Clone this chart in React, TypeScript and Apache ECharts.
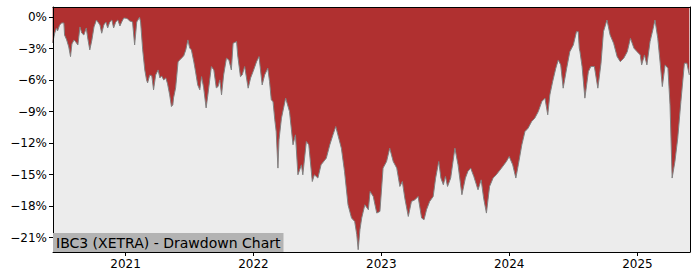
import React, { useEffect, useRef } from 'react';
import * as echarts from 'echarts';

const dates = [
  '2020-06-07','2020-06-13','2020-06-18','2020-06-21','2020-06-27','2020-07-03','2020-07-09','2020-07-11','2020-07-17','2020-07-23',
  '2020-07-28','2020-08-01','2020-08-07','2020-08-12','2020-08-18','2020-08-24','2020-08-29','2020-09-04','2020-09-11','2020-09-15',
  '2020-09-21','2020-09-27','2020-10-03','2020-10-10','2020-10-14','2020-10-20','2020-10-25','2020-10-31','2020-11-06','2020-11-11',
  '2020-11-17','2020-11-23','2020-11-28','2020-12-04','2020-12-10','2020-12-16','2020-12-21','2020-12-27','2021-01-03','2021-01-07',
  '2021-01-13','2021-01-21','2021-01-27','2021-02-02','2021-02-10','2021-02-13','2021-02-19','2021-02-25','2021-03-02','2021-03-05',
  '2021-03-11','2021-03-17','2021-03-22','2021-03-28','2021-04-04','2021-04-09','2021-04-14','2021-04-20','2021-04-26','2021-05-01',
  '2021-05-07','2021-05-12','2021-05-16','2021-05-18','2021-05-24','2021-05-31','2021-06-05','2021-06-10','2021-06-16','2021-06-22',
  '2021-06-28','2021-07-03','2021-07-08','2021-07-15','2021-07-20','2021-07-26','2021-08-01','2021-08-06','2021-08-12','2021-08-19',
  '2021-08-24','2021-09-03','2021-09-10','2021-09-17','2021-09-22','2021-09-27','2021-10-02','2021-10-08','2021-10-16','2021-10-23',
  '2021-10-30','2021-11-04','2021-11-14','2021-11-17','2021-11-25','2021-11-30','2021-12-07','2021-12-17','2021-12-24','2021-12-31',
  '2022-01-10','2022-01-17','2022-01-26','2022-02-02','2022-02-11','2022-02-16','2022-02-21','2022-02-26','2022-03-03','2022-03-07',
  '2022-03-12','2022-03-15','2022-03-22','2022-04-03','2022-04-14','2022-04-24','2022-05-01','2022-05-08','2022-05-18','2022-05-22',
  '2022-06-01','2022-06-08','2022-06-18','2022-06-24','2022-07-04','2022-07-13','2022-07-28','2022-08-07','2022-08-16','2022-08-24',
  '2022-08-30','2022-09-09','2022-09-18','2022-09-28','2022-10-08','2022-10-17','2022-10-23','2022-10-27','2022-11-01','2022-11-06',
  '2022-11-15','2022-11-25','2022-11-30','2022-12-09','2022-12-19','2022-12-28','2023-01-06','2023-01-16','2023-01-25','2023-02-04',
  '2023-02-14','2023-02-23','2023-03-02','2023-03-09','2023-03-19','2023-03-28','2023-04-07','2023-04-16','2023-04-26','2023-05-03',
  '2023-05-10','2023-05-19','2023-05-29','2023-06-05','2023-06-14','2023-06-20','2023-06-27','2023-07-03','2023-07-09','2023-07-18',
  '2023-07-30','2023-08-08','2023-08-19','2023-08-29','2023-09-05','2023-09-13','2023-09-22','2023-10-04','2023-10-13','2023-10-20',
  '2023-10-28','2023-11-06','2023-11-16','2023-11-25','2023-12-10','2023-12-24','2024-01-01','2024-01-11','2024-01-20','2024-01-27',
  '2024-02-06','2024-02-15','2024-02-24','2024-03-05','2024-03-14','2024-03-24','2024-04-03','2024-04-12','2024-04-20','2024-04-26',
  '2024-05-04','2024-05-13','2024-05-20','2024-05-27','2024-06-03','2024-06-13','2024-06-22','2024-07-02','2024-07-11','2024-07-16',
  '2024-07-19','2024-07-21','2024-07-27','2024-08-04','2024-08-14','2024-08-21','2024-08-31','2024-09-10','2024-09-19','2024-09-26',
  '2024-10-06','2024-10-15','2024-10-25','2024-11-04','2024-11-13','2024-11-23','2024-12-03','2024-12-12','2024-12-22','2024-12-31',
  '2025-01-09','2025-01-13','2025-01-21','2025-01-28','2025-02-06','2025-02-15','2025-02-20','2025-02-28','2025-03-07','2025-03-13',
  '2025-03-21','2025-03-29','2025-04-04','2025-04-10','2025-04-18','2025-04-26','2025-05-05','2025-05-15','2025-05-22','2025-05-29',
];

const drawdown = [
  -2.45, -1.50, -1.02, -1.30, -0.73, -0.54, -0.54, -1.69, -2.16, -2.83,
  -3.75, -2.54, -2.16, -2.35, -2.64, -0.92, -1.50, -1.69, -1.02, -1.97,
  -3.11, -2.16, -0.92, -0.26, -0.45, -0.73, -1.52, -0.73, -0.45, -1.02,
  -0.45, -0.26, -1.02, -0.45, -0.26, -0.83, -0.45, -0.07, -0.10, -0.16,
  -0.35, -0.45, -2.64, -0.45, 0.00, -0.45, -3.11, -5.03, -5.97, -6.26,
  -5.50, -5.59, -6.92, -5.50, -5.02, -5.78, -5.59, -5.97, -5.78, -6.35,
  -7.40, -8.51, -8.35, -7.69, -6.73, -4.23, -4.07, -3.88, -3.69, -3.11,
  -2.16, -2.92, -3.11, -4.26, -5.21, -6.45, -6.92, -5.66, -6.73, -8.64,
  -7.40, -4.70, -5.02, -6.73, -6.61, -5.97, -7.40, -5.50, -3.90, -4.07,
  -5.02, -2.48, -2.32, -3.59, -5.66, -5.50, -4.70, -6.76, -5.78, -5.18,
  -4.23, -3.75, -6.45, -5.50, -4.86, -6.13, -7.88, -8.04, -9.78, -10.90,
  -14.38, -11.69, -9.62, -7.71, -8.99, -12.16, -11.21, -15.02, -14.07, -15.02,
  -11.85, -12.16, -15.66, -15.02, -15.33, -14.07, -13.43, -12.16, -11.21, -10.42,
  -11.21, -12.48, -14.70, -17.88, -19.14, -19.47, -20.73, -22.16, -20.26, -19.14,
  -17.88, -18.35, -16.61, -17.09, -18.67, -18.51, -14.38, -13.75, -12.48, -13.75,
  -14.38, -16.13, -15.66, -17.24, -18.99, -17.56, -17.40, -17.09, -19.14, -19.30,
  -18.35, -17.56, -17.09, -15.33, -13.75, -15.33, -15.97, -15.18, -16.13, -15.33,
  -12.48, -14.07, -16.92, -15.33, -14.70, -14.38, -15.18, -16.45, -15.50, -17.24,
  -18.67, -16.13, -15.33, -15.02, -14.38, -13.75, -13.28, -14.07, -15.33, -14.07,
  -12.16, -10.90, -10.57, -9.94, -9.62, -8.99, -8.04, -7.71, -9.30, -7.40,
  -6.13, -4.86, -4.07, -4.54, -6.76, -4.86, -3.28, -2.64, -1.37, -1.37,
  -2.95, -3.28, -4.70, -7.71, -5.18, -4.70, -4.70, -6.76, -4.38, -1.37,
  -0.26, -1.69, -2.48, -3.75, -4.23, -3.90, -3.28, -2.00, -2.95, -3.28,
  -3.59, -4.54, -3.59, -4.54, -2.32, -1.05, -0.26, -2.00, -4.38, -6.61,
  -4.54, -4.86, -8.35, -15.33, -13.75, -11.52, -8.04, -4.38, -4.38, -5.50,
];

const yTicks = [0, -3, -6, -9, -12, -15, -18, -21];
const tickYears = [2021, 2022, 2023, 2024, 2025];
const xStart = '2020-06-08';
const xEnd = '2025-05-31';
const titleText = 'IBC3 (XETRA) - Drawdown Chart';

const toTs = (s: string) => {
  const [y, m, d] = s.split('-').map(Number);
  return Date.UTC(y, m - 1, d);
};

export default function App() {
  const ref = useRef<HTMLDivElement>(null);
  useEffect(() => {
    document.body.style.margin = '0';
    const chart = echarts.init(ref.current!, null, { renderer: 'svg' });
    const data = dates.map((d, i) => [toTs(d), drawdown[i]]);
    const yearTs = tickYears.map((y) => Date.UTC(y, 0, 1));
    const xMin = toTs(xStart);
    const xMax = toTs(xEnd);
    const font = 'DejaVu Sans';
    const fmtY = (v: number) => (v === 0 ? '0%' : '\u2212' + Math.abs(v) + '%');
    chart.setOption({
      animation: false,
      backgroundColor: '#ffffff',
      title: {
        text: titleText,
        left: 53,
        top: 233,
        padding: [2, 3, 2, 3],
        backgroundColor: '#B3B3B3',
        textStyle: { fontFamily: font, fontSize: 14, fontWeight: 'normal', color: '#000', lineHeight: 15 },
        z: 20,
      },
      grid: {
        left: 53,
        right: 10,
        top: 7,
        bottom: 28,
        show: true,
        backgroundColor: '#ECECEC',
        borderWidth: 0,
      },
      xAxis: [
        {
          type: 'value',
          min: xMin,
          max: xMax,
          z: 10,
          axisLine: { show: true, onZero: false, lineStyle: { color: '#000', width: 1 } },
          axisTick: { show: true, length: 4, customValues: yearTs, lineStyle: { color: '#000' } },
          axisLabel: {
            customValues: yearTs,
            formatter: (v: number) => String(new Date(v).getUTCFullYear()),
            fontFamily: font,
            fontSize: 12,
            color: '#000',
            margin: 6,
          },
          splitLine: { show: false },
        },
        {
          type: 'value',
          position: 'top',
          min: xMin,
          max: xMax,
          z: 10,
          axisLine: { show: true, onZero: false, lineStyle: { color: '#000', width: 1 } },
          axisTick: { show: false },
          axisLabel: { show: false },
          splitLine: { show: false },
        },
      ],
      yAxis: [
        {
          type: 'value',
          min: -22.38,
          max: 0.98,
          z: 10,
          axisLine: { show: true, onZero: false, lineStyle: { color: '#000', width: 1 } },
          axisTick: { show: true, length: 4, customValues: yTicks, lineStyle: { color: '#000' } },
          axisLabel: {
            customValues: yTicks,
            formatter: fmtY,
            fontFamily: font,
            fontSize: 12,
            color: '#000',
            margin: 6,
          },
          splitLine: { show: false },
        },
        {
          type: 'value',
          position: 'right',
          min: -22.38,
          max: 0.98,
          z: 10,
          axisLine: { show: true, onZero: false, lineStyle: { color: '#000', width: 1 } },
          axisTick: { show: false },
          axisLabel: { show: false },
          splitLine: { show: false },
        },
      ],
      series: [
        {
          type: 'line',
          data,
          xAxisIndex: 0,
          yAxisIndex: 0,
          showSymbol: false,
          symbol: 'none',
          z: 2,
          lineStyle: { color: '#808080', width: 1 },
          areaStyle: { color: '#B03030', opacity: 1, origin: 'end' },
        },
      ],
    });
    return () => chart.dispose();
  }, []);
  return <div ref={ref} style={{ width: 700, height: 280 }} />;
}
